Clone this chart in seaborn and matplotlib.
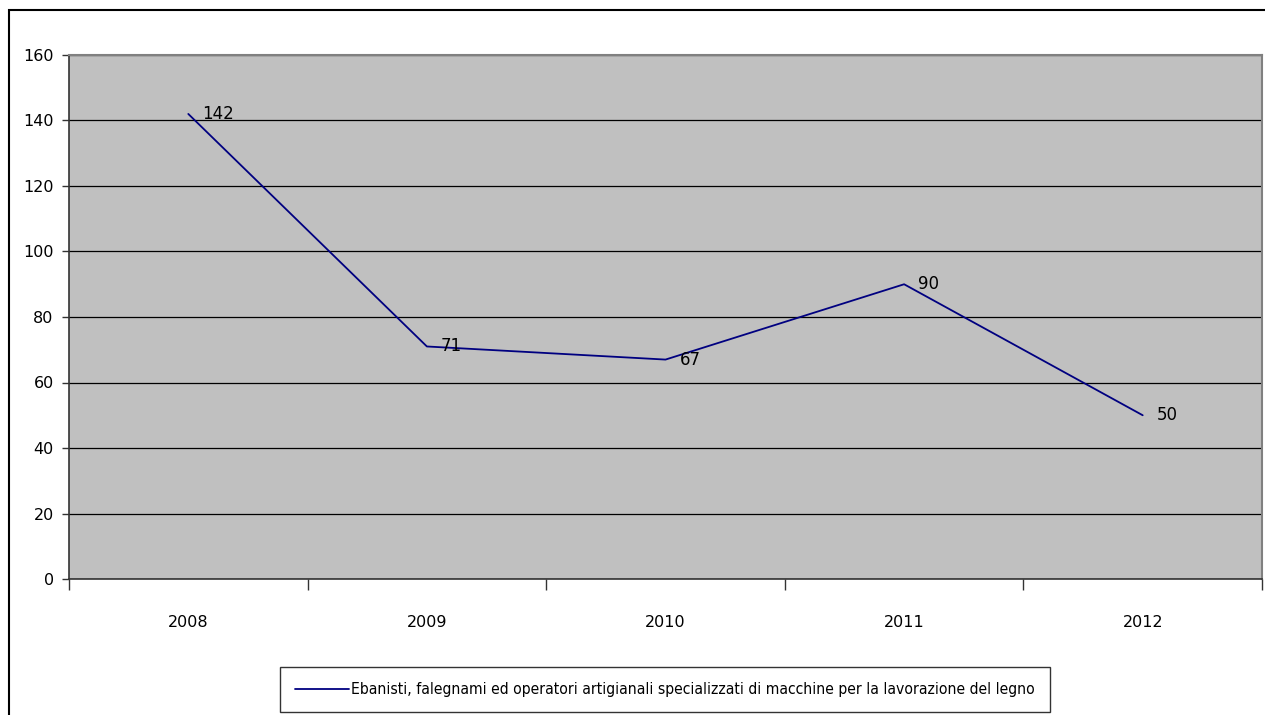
import matplotlib
matplotlib.use("Agg")
import matplotlib.pyplot as plt
import seaborn as sns
import pandas as pd
from matplotlib.patches import Rectangle
from matplotlib.ticker import FixedLocator, MultipleLocator
from matplotlib import font_manager as fm

years = ["2008", "2009", "2010", "2011", "2012"]
values = [142, 71, 67, 90, 50]
series_name = "Ebanisti, falegnami ed operatori artigianali specializzati di macchine per la lavorazione del legno"

sns.set_style("white")
plt.rcParams["font.family"] = ["DejaVu Sans"]
plt.rcParams["text.color"] = "black"
plt.rcParams["xtick.color"] = "black"
plt.rcParams["ytick.color"] = "black"

cond = fm.FontProperties(family="DejaVu Sans", stretch="condensed", size=13)

df = pd.DataFrame({"year": years, "value": values})

fig = plt.figure(figsize=(12.65, 7.15), dpi=100)
ax = fig.add_axes([69/1265, 1-579/715, (1262-69)/1265, (579-55)/715])
ax.set_facecolor("#C0C0C0")

sns.lineplot(data=df, x="year", y="value", ax=ax, color="#000080", linewidth=1.3,
             label=series_name, sort=False)

for i, v in enumerate(values):
    ax.annotate(str(v), (i, v), xytext=(14, 0), textcoords="offset pixels",
                va="center", ha="left", fontsize=12, color="black")

ax.set_xlim(-0.5, 4.5)
ax.set_ylim(0, 160)
ax.yaxis.set_major_locator(MultipleLocator(20))
ax.grid(axis="y", color="black", linewidth=0.9)
ax.set_axisbelow(True)
ax.set_xlabel("")
ax.set_ylabel("")

ax.xaxis.set_minor_locator(FixedLocator([-0.5, 0.5, 1.5, 2.5, 3.5, 4.5]))
ax.tick_params(axis="x", which="major", length=0, pad=26, labelsize=11.5)
ax.tick_params(axis="x", which="minor", length=8, width=1, color="#333333", direction="out", bottom=True)
ax.tick_params(axis="y", which="major", length=5, width=1, color="#333333", direction="out", left=True, labelsize=11.5, pad=6)

for side in ["top", "right"]:
    ax.spines[side].set_color("#808080")
    ax.spines[side].set_linewidth(1.5)
ax.spines["left"].set_color("#333333")
ax.spines["bottom"].set_color("#333333")
ax.spines["left"].set_linewidth(1.2)
ax.spines["bottom"].set_linewidth(1.2)


def make_legend(prop, hl):
    lg = ax.legend(loc="center", bbox_to_anchor=(665/1265, 1-689.5/715), bbox_transform=fig.transFigure,
                   frameon=True, fancybox=False, prop=prop, handlelength=hl, handletextpad=0.1,
                   borderpad=0.95, borderaxespad=0)
    lg.get_frame().set_edgecolor("black")
    lg.get_frame().set_linewidth(1.0)
    for t in lg.get_texts():
        t.set_color("black")
    return lg


leg = make_legend(cond, 3.0)
fig.canvas.draw()
bb = leg.get_window_extent()
target_w = 1046 - 283
if abs(bb.width - target_w) > 8:
    scale = target_w / bb.width
    leg.remove()
    cond.set_size(13 * scale)
    leg = make_legend(cond, 3.0 / scale)

fig.patches.append(Rectangle((8.5/1265, -0.1), 1.1, (715-10)/715 + 0.1, transform=fig.transFigure,
                             fill=False, edgecolor="black", linewidth=1.5))

fig.savefig("out.png", dpi=100)
